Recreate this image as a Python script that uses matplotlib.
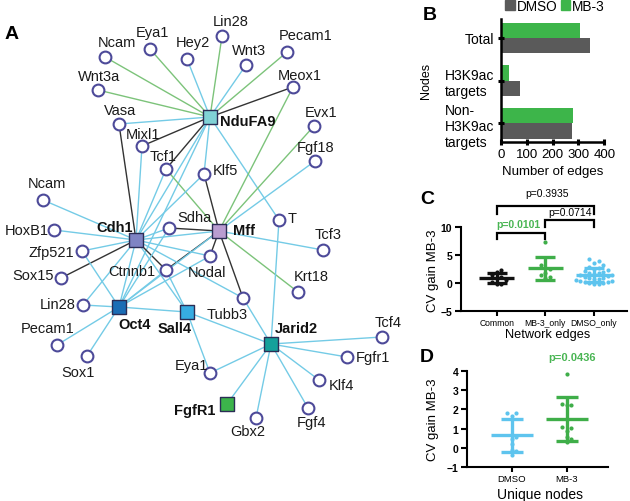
import matplotlib
matplotlib.use("Agg")
import matplotlib.pyplot as plt
import numpy as np
from matplotlib.collections import LineCollection
from matplotlib.patches import Patch

plt.rcParams['font.family'] = ['Liberation Sans', 'DejaVu Sans']

W, H = 630, 502

# ---------------- Panel A: network data ----------------
gene_ids = ['Ncam_a', 'Eya1_a', 'Hey2', 'Lin28_a', 'Wnt3', 'Pecam1_a', 'Wnt3a', 'Meox1',
            'Vasa', 'Evx1', 'Mixl1', 'Fgf18', 'Tcf1', 'Klf5', 'Ncam_b', 'Sdha', 'T',
            'HoxB1', 'Tcf3', 'Zfp521', 'Nodal', 'Ctnnb1', 'Sox15', 'Krt18', 'Lin28_b',
            'Tubb3', 'Tcf4', 'Pecam1_b', 'Fgfr1', 'Sox1', 'Eya1_b', 'Klf4', 'Fgf4', 'Gbx2']
gene_names = ['Ncam', 'Eya1', 'Hey2', 'Lin28', 'Wnt3', 'Pecam1', 'Wnt3a', 'Meox1',
              'Vasa', 'Evx1', 'Mixl1', 'Fgf18', 'Tcf1', 'Klf5', 'Ncam', 'Sdha', 'T',
              'HoxB1', 'Tcf3', 'Zfp521', 'Nodal', 'Ctnnb1', 'Sox15', 'Krt18', 'Lin28',
              'Tubb3', 'Tcf4', 'Pecam1', 'Fgfr1', 'Sox1', 'Eya1', 'Klf4', 'Fgf4', 'Gbx2']
gene_x = [105, 150, 187, 222, 246, 287, 98, 293, 119, 314, 142, 315, 166, 204, 43, 169, 279,
          54, 323, 82, 210, 166, 61, 298, 83, 243, 382, 57, 347, 87, 210, 319, 308, 256]
gene_y = [58, 50, 60, 37, 66, 53, 91, 88, 125, 127, 147, 162, 170, 175, 201, 229, 221,
          231, 251, 252, 257, 271, 279, 293, 306, 299, 338, 346, 358, 357, 374, 381, 409, 419]
gene_label_at = {
    'Ncam_a': (117, 43, 'center'), 'Eya1_a': (152, 33, 'center'), 'Hey2': (193, 43, 'center'),
    'Lin28_a': (231, 22, 'center'), 'Wnt3': (249, 51, 'center'), 'Pecam1_a': (306, 36, 'center'),
    'Wnt3a': (99, 77, 'center'), 'Meox1': (300, 76, 'center'), 'Vasa': (120, 111, 'center'),
    'Evx1': (321, 113, 'center'), 'Mixl1': (143, 135, 'center'), 'Fgf18': (316, 148, 'center'),
    'Tcf1': (163, 157, 'center'), 'Klf5': (213, 171, 'left'), 'Ncam_b': (47, 184, 'center'),
    'Sdha': (194, 218, 'center'), 'T': (288, 219, 'left'), 'HoxB1': (49, 231, 'right'),
    'Tcf3': (328, 235, 'center'), 'Zfp521': (74, 253, 'right'), 'Nodal': (207, 273, 'center'),
    'Ctnnb1': (132, 272, 'center'), 'Sox15': (54, 276, 'right'), 'Krt18': (311, 277, 'center'),
    'Lin28_b': (76, 305, 'right'), 'Tubb3': (227, 315, 'center'), 'Tcf4': (388, 323, 'center'),
    'Pecam1_b': (48, 329, 'center'), 'Fgfr1': (356, 358, 'left'), 'Sox1': (78, 373, 'center'),
    'Eya1_b': (191, 366, 'center'), 'Klf4': (329, 386, 'left'), 'Fgf4': (312, 423, 'center'),
    'Gbx2': (248, 432, 'center')}

hub_ids = ['NduFA9', 'Cdh1', 'Mff', 'Oct4', 'Sall4', 'Jarid2', 'FgfR1']
hub_x = [210, 136, 219, 119, 187, 271, 227]
hub_y = [118, 241, 232, 308, 313, 345, 405]
hub_colors = ['#80d2d6', '#7f84c4', '#b99dd0', '#1a6db5', '#36ace2', '#14a19b', '#3cb44b']
hub_label_at = {'NduFA9': (220, 122, 'left'), 'Cdh1': (115, 228, 'center'),
                'Mff': (233, 231, 'left'), 'Oct4': (135, 325, 'center'),
                'Sall4': (175, 329, 'center'), 'Jarid2': (296, 329, 'center'),
                'FgfR1': (195, 411, 'center')}

# edge type: b = light blue, g = green, k = black
edges = [
    ('NduFA9', 'Ncam_a', 'g'), ('NduFA9', 'Eya1_a', 'g'), ('NduFA9', 'Hey2', 'b'),
    ('NduFA9', 'Lin28_a', 'g'), ('NduFA9', 'Wnt3', 'b'), ('NduFA9', 'Pecam1_a', 'g'),
    ('NduFA9', 'Wnt3a', 'g'), ('NduFA9', 'Meox1', 'k'), ('NduFA9', 'Vasa', 'b'),
    ('NduFA9', 'Mixl1', 'k'), ('NduFA9', 'Tcf1', 'k'), ('NduFA9', 'Klf5', 'b'),
    ('NduFA9', 'T', 'b'), ('NduFA9', 'Cdh1', 'b'), ('NduFA9', 'Oct4', 'b'),
    ('Mff', 'Tcf1', 'g'), ('Mff', 'Klf5', 'k'), ('Mff', 'Meox1', 'g'), ('Mff', 'Evx1', 'g'),
    ('Mff', 'Fgf18', 'b'), ('Mff', 'Sdha', 'k'), ('Mff', 'Ctnnb1', 'k'), ('Mff', 'Nodal', 'k'),
    ('Mff', 'Tubb3', 'k'), ('Mff', 'Tcf3', 'b'), ('Mff', 'Krt18', 'g'), ('Mff', 'Cdh1', 'b'),
    ('Mff', 'Oct4', 'b'),
    ('Cdh1', 'Vasa', 'k'), ('Cdh1', 'Mixl1', 'b'), ('Cdh1', 'Tcf1', 'b'), ('Cdh1', 'Klf5', 'b'),
    ('Cdh1', 'Ncam_b', 'b'), ('Cdh1', 'HoxB1', 'b'), ('Cdh1', 'Zfp521', 'b'),
    ('Cdh1', 'Sox15', 'k'), ('Cdh1', 'Lin28_b', 'b'), ('Cdh1', 'Ctnnb1', 'k'),
    ('Cdh1', 'Sdha', 'b'), ('Cdh1', 'Nodal', 'b'), ('Cdh1', 'Oct4', 'b'),
    ('Cdh1', 'Sall4', 'b'), ('Cdh1', 'Tubb3', 'b'),
    ('Oct4', 'Zfp521', 'b'), ('Oct4', 'Lin28_b', 'b'), ('Oct4', 'Pecam1_b', 'b'),
    ('Oct4', 'Sox1', 'b'), ('Oct4', 'Ctnnb1', 'b'), ('Oct4', 'Nodal', 'b'),
    ('Oct4', 'Sdha', 'b'), ('Oct4', 'Sall4', 'b'),
    ('Sall4', 'Ctnnb1', 'b'), ('Sall4', 'Eya1_b', 'b'), ('Sall4', 'Jarid2', 'b'),
    ('Jarid2', 'T', 'b'), ('Jarid2', 'Tubb3', 'b'), ('Jarid2', 'Tcf4', 'b'),
    ('Jarid2', 'Fgfr1', 'b'), ('Jarid2', 'Klf4', 'b'), ('Jarid2', 'Fgf4', 'b'),
    ('Jarid2', 'Gbx2', 'b'), ('Jarid2', 'FgfR1', 'b'), ('Jarid2', 'Eya1_b', 'b'),
]
edge_colors = {'b': '#74cbe6', 'g': '#7cc37a', 'k': '#333333'}

# ---------------- Panel B data ----------------
b_categories = ['Total', 'H3K9ac\ntargets', 'Non-\nH3K9ac\ntargets']
b_dmso = [345, 74, 275]
b_mb3 = [305, 33, 279]
b_xticks = [0, 100, 200, 300, 400]

# ---------------- Panel C data ----------------
c_groups = ['Common', 'MB-3_only', 'DMSO_only']
c_common = [2.4, 2.0, 1.5, 1.1, 0.9, 0.6, 0.3, -0.1, -0.2]
c_mb3_only = [7.3, 3.2, 2.8, 2.5, 1.8, 1.5, 1.2, 0.9]
c_dmso_only = [4.3, 4.0, 3.6, 3.2, 3.0, 2.8, 2.6, 2.4, 2.2, 2.0, 1.9, 1.8, 1.6, 1.5, 1.4,
               1.3, 1.2, 1.0, 0.9, 0.8, 0.7, 0.6, 0.5, 0.4, 0.3, 0.2, 0.1, 0.0, -0.1, -0.2]
c_pvals = ['p=0.3935', 'p=0.0714', 'p=0.0101']

# ---------------- Panel D data ----------------
d_groups = ['DMSO', 'MB-3']
d_dmso = [1.8, 1.8, 1.65, 0.55, 0.45, 0.2, -0.1, -0.15, -0.35]
d_mb3 = [3.85, 2.3, 2.25, 2.2, 1.1, 1.05, 0.9, 0.55, 0.45, 0.3]
d_pval = 'p=0.0436'

GREEN = '#3fae49'
BLUE = '#5ec4ee'
BLACK = '#111111'
PGREEN = '#49b553'


def px_rect(x0, y0, x1, y1):
    return [x0 / W, 1 - y1 / H, (x1 - x0) / W, (y1 - y0) / H]


fig = plt.figure(figsize=(W / 100, H / 100), dpi=100)

# ---------------- Panel A ----------------
axA = fig.add_axes([0, 0, 1, 1])
axA.set_xlim(0, W)
axA.set_ylim(H, 0)
axA.axis('off')

pos = {g: (x, y) for g, x, y in zip(gene_ids, gene_x, gene_y)}
pos.update({h: (x, y) for h, x, y in zip(hub_ids, hub_x, hub_y)})

segs = [[pos[a], pos[b]] for a, b, _ in edges]
cols = [edge_colors[t] for _, _, t in edges]
axA.add_collection(LineCollection(segs, colors=cols, linewidths=1.0, zorder=1))

axA.scatter(gene_x, gene_y, s=72, marker='o', facecolor='white', edgecolor='#4d4a99',
            linewidth=1.5, zorder=3)
axA.scatter(hub_x, hub_y, s=100, marker='s', c=hub_colors, edgecolor='#2b2d55',
            linewidth=1.0, zorder=3)

for gid, name in zip(gene_ids, gene_names):
    lx, ly, ha = gene_label_at[gid]
    axA.text(lx, ly, name, fontsize=10.5, ha=ha, va='center', color='#1a1a1a', zorder=4)
for hid in hub_ids:
    lx, ly, ha = hub_label_at[hid]
    axA.text(lx, ly, hid, fontsize=10.5, fontweight='bold', ha=ha, va='center',
             color='#111111', zorder=4)

# panel letters
for letter, (x, y) in zip('ABCD', [(12, 35), (430, 15), (427, 200), (427, 357)]):
    fig.text(x / W, 1 - y / H, letter, fontsize=14, fontweight='bold', ha='center', va='center')

# ---------------- Panel B ----------------
axB = fig.add_axes(px_rect(500.7, 20, 604.3, 142.7))
yb = np.arange(len(b_categories))
bh = 0.36
axB.barh(yb - bh / 2, b_mb3, height=bh, color='#3db54a', label='MB-3')
axB.barh(yb + bh / 2, b_dmso, height=bh, color='#5a5a5a', label='DMSO')
axB.set_xlim(0, 400)
axB.set_ylim(2.43, -0.445)
axB.set_xticks(b_xticks)
axB.set_xticklabels([str(v) for v in b_xticks], fontsize=9.5)
axB.set_yticks(yb)
axB.set_yticklabels(b_categories, fontsize=10, multialignment='left')
for s in ['top', 'right']:
    axB.spines[s].set_visible(False)
for s in ['left', 'bottom']:
    axB.spines[s].set_linewidth(1.8)
axB.tick_params(axis='both', direction='inout', length=5, width=2.2, pad=2)
axB.set_xlabel('Number of edges', fontsize=9.5, va='center')
axB.xaxis.set_label_coords(0.505, -0.24)
axB.set_ylabel('Nodes', fontsize=9, va='center')
axB.yaxis.set_label_coords(-0.72, 0.5)
handles = [Patch(color='#5a5a5a', label='DMSO'), Patch(color='#3db54a', label='MB-3')]
axB.legend(handles=handles, loc='center left', bbox_to_anchor=(505 / W, 1 - 7 / H),
           bbox_transform=fig.transFigure, ncol=2, frameon=False, fontsize=9.8,
           handlelength=0.7, handleheight=0.7, handletextpad=0.15, columnspacing=0.25,
           borderpad=0, borderaxespad=0)


# ---------------- scatter helpers ----------------
def swarm_offsets(ax, values, dot_px):
    t = ax.transData
    ypx = t.transform(np.column_stack([np.zeros(len(values)), values]))[:, 1]
    xscale = t.transform((1, 0))[0] - t.transform((0, 0))[0]
    placed = []
    offs = np.zeros(len(values))
    step = dot_px * 0.5
    cands = [0.0]
    for n in range(1, 40):
        cands += [n * step, -n * step]
    for i in np.argsort(values):
        for c in cands:
            if all((c - px) ** 2 + (ypx[i] - py) ** 2 >= dot_px ** 2 for px, py in placed):
                break
        placed.append((c, ypx[i]))
        offs[i] = c / xscale
    return offs


def dot_group(ax, xc, values, color, half_w, cap_pt):
    vals = np.asarray(values, dtype=float)
    offs = swarm_offsets(ax, vals, 4.6)
    ax.scatter(xc + offs, vals, s=9, color=color, linewidth=0, zorder=2, clip_on=False)
    m = vals.mean()
    sd = vals.std(ddof=1)
    ax.plot([xc - half_w, xc + half_w], [m, m], color=color, lw=2.4,
            solid_capstyle='butt', zorder=3)
    ax.errorbar(xc, m, yerr=sd, fmt='none', ecolor=color, elinewidth=2.4,
                capsize=cap_pt, capthick=2.4, zorder=3)


def style_dot_axes(ax):
    for s in ['top', 'right']:
        ax.spines[s].set_visible(False)
    for s in ['left', 'bottom']:
        ax.spines[s].set_linewidth(1.5)
    ax.tick_params(axis='both', direction='out', length=4.5, width=1.5, pad=1.5)
    ax.tick_params(axis='x', length=3.5, pad=1)
    for lab in ax.get_yticklabels():
        lab.set_fontweight('bold')
        lab.set_fontsize(7.5)


# ---------------- Panel C ----------------
axC = fig.add_axes(px_rect(460.7, 228.3, 627, 312.3))
axC.set_xlim(-0.742, 2.68)
axC.set_ylim(-5, 10)
axC.set_yticks([-5, 0, 5, 10])
axC.set_xticks(range(len(c_groups)))
axC.set_xticklabels(c_groups, fontsize=6.2)
style_dot_axes(axC)
for i, (vals, col) in enumerate(zip([c_common, c_mb3_only, c_dmso_only], [BLACK, GREEN, BLUE])):
    dot_group(axC, i, vals, col, 0.36, 7)
axC.set_ylabel('CV gain MB-3', fontsize=9.5, va='center')
axC.yaxis.set_label_coords(-0.167, 0.5)
axC.set_xlabel('Network edges', fontsize=9.2, va='center')
axC.xaxis.set_label_coords(0.52, -0.275)

bk = dict(color='black', lw=1.6, clip_on=False, solid_joinstyle='miter')
axC.plot([0, 0, 2, 2], [12.4, 13.8, 13.8, 12.4], **bk)
axC.plot([1, 1, 2, 2], [10.0, 11.3, 11.3, 10.0], **bk)
axC.plot([0, 0, 1, 1], [8.0, 9.0, 9.0, 8.0], **bk)
axC.text(1.03, 16.1, c_pvals[0], fontsize=7.5, ha='center', va='center', clip_on=False)
axC.text(1.5, 12.7, c_pvals[1], fontsize=7.5, ha='center', va='center', clip_on=False)
axC.text(0.45, 10.6, c_pvals[2], fontsize=7.5, fontweight='bold', color=PGREEN,
         ha='center', va='center', clip_on=False)

# ---------------- Panel D ----------------
axD = fig.add_axes(px_rect(466.7, 371.7, 608, 468.3))
axD.set_xlim(-0.82, 1.75)
axD.set_ylim(-1, 4)
axD.set_yticks([-1, 0, 1, 2, 3, 4])
axD.set_xticks(range(len(d_groups)))
axD.set_xticklabels(d_groups, fontsize=6.8)
style_dot_axes(axD)
for i, (vals, col) in enumerate(zip([d_dmso, d_mb3], [BLUE, GREEN])):
    dot_group(axD, i, vals, col, 0.38, 8)
axD.set_ylabel('CV gain MB-3', fontsize=9.5, va='center')
axD.yaxis.set_label_coords(-0.238, 0.5)
axD.set_xlabel('Unique nodes', fontsize=10, va='center')
axD.xaxis.set_label_coords(0.52, -0.28)
axD.text(1.1, 4.7, d_pval, fontsize=8, fontweight='bold', color=PGREEN,
         ha='center', va='center', clip_on=False)

fig.savefig('out.png', dpi=100)
